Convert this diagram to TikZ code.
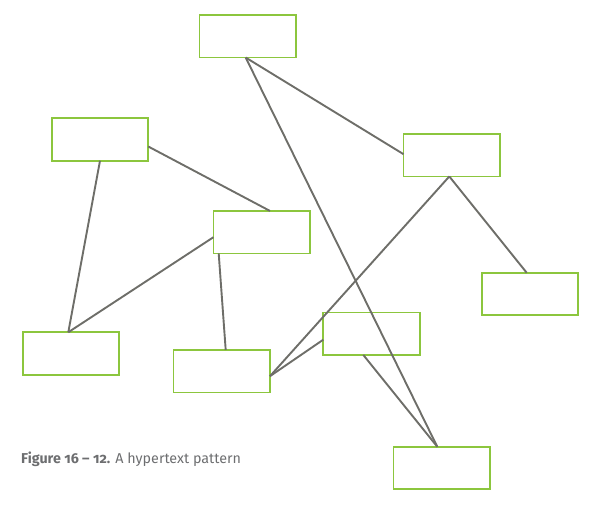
\documentclass[tikz,border=0pt]{standalone}
\usepackage{fontspec}
\setmainfont{Fira Sans}[Numbers=OldStyle]
\usetikzlibrary{calc}
\definecolor{boxgreen}{HTML}{8CC63E}
\definecolor{linegray}{HTML}{6E6E69}
\definecolor{capgray}{HTML}{6D6E70}
\begin{document}
\begin{tikzpicture}[x=1pt,y=-1pt,
  card/.style={draw=boxgreen,line width=1.7pt,rectangle,minimum width=96.5pt,minimum height=42.5pt,inner sep=0pt,outer sep=0pt},
  link/.style={draw=linegray,line width=1.9pt}]
\useasboundingbox (0,0) rectangle (607,508);
\node[card] (A) at (247.7,36.3) {};
\node[card] (B) at (100,139.5) {};
\node[card] (C) at (451.8,155.2) {};
\node[card] (D) at (261.7,232.2) {};
\node[card] (E) at (530,294) {};
\node[card] (F) at (371.5,333.7) {};
\node[card] (G) at (71,353.5) {};
\node[card] (H) at (221.7,371.2) {};
\node[card] (I) at (441.8,468) {};
\coordinate (At) at ($(A.south)+(-2,0)$);
\coordinate (It) at ($(I.north)+(-4.5,0)$);
\coordinate (Ct) at ($(C.south)+(-2.5,0)$);
\coordinate (Gt) at ($(G.north)+(-2.7,0)$);
\coordinate (Ht) at ($(H.east)+(0,5)$);
\draw[link] (At) -- (It);
\draw[link] (At) -- ($(C.west)+(0,-1)$);
\draw[link] ($(B.east)+(0,7)$) -- ($(D.north)+(8.3,0)$);
\draw[link] (B.south) -- (Gt);
\draw[link] ($(D.west)+(0,5)$) -- (Gt);
\draw[link] ($(D.south)+(-43,0)$) -- ($(H.north)+(4,0)$);
\draw[link] (Ct) -- (Ht);
\draw[link] (Ct) -- ($(E.north)+(-3.3,0)$);
\draw[link] ($(F.west)+(0,6)$) -- (Ht);
\draw[link] ($(F.south)+(-8.2,0)$) -- (It);
\node[anchor=base west,inner sep=0pt,text=capgray,font=\fontsize{14.3}{16}\selectfont] (cap) at (21,463.3) {\textbf{Figure 16 – 12.} A hypertext pattern};
\end{tikzpicture}
\end{document}
